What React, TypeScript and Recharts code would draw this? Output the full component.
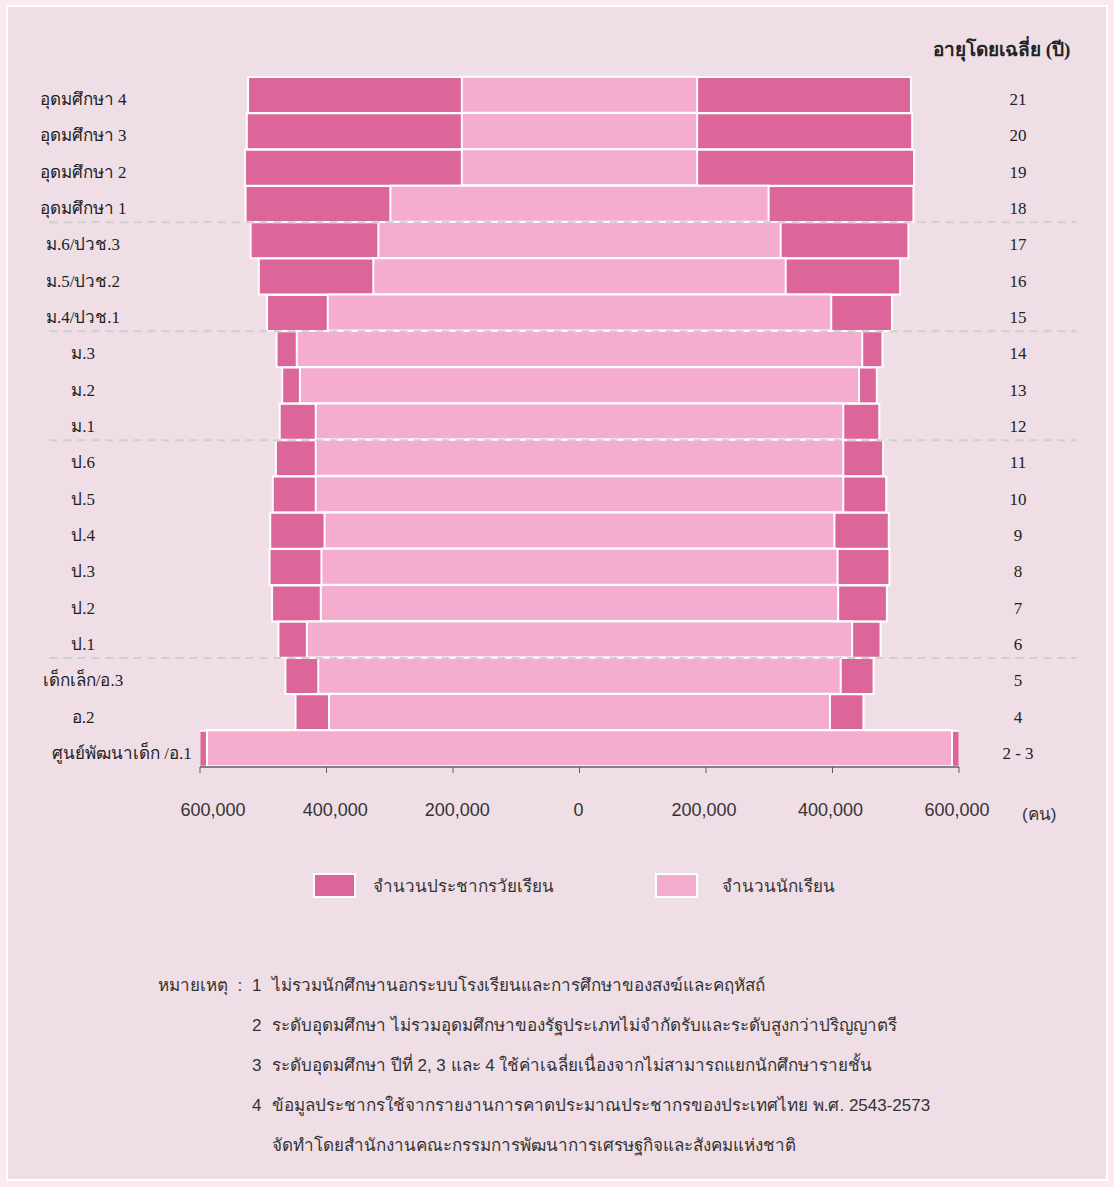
import React from 'react';
import { BarChart, Bar, XAxis, YAxis, ReferenceLine } from 'recharts';

// ระดับการศึกษา (บนลงล่าง) และอายุเฉลี่ย
const levels = [
  'อุดมศึกษา 4', 'อุดมศึกษา 3', 'อุดมศึกษา 2', 'อุดมศึกษา 1',
  'ม.6/ปวช.3', 'ม.5/ปวช.2', 'ม.4/ปวช.1',
  'ม.3', 'ม.2', 'ม.1',
  'ป.6', 'ป.5', 'ป.4', 'ป.3', 'ป.2', 'ป.1',
  'เด็กเล็ก/อ.3', 'อ.2', 'ศูนย์พัฒนาเด็ก /อ.1',
];
const ages = ['21', '20', '19', '18', '17', '16', '15', '14', '13', '12', '11', '10', '9', '8', '7', '6', '5', '4', '2 - 3'];

// ค่าที่อ่านจากแกน (แต่ละด้าน)
const population = [524000, 526000, 529000, 528000, 520000, 507000, 494000, 479000, 470000, 474000, 480000, 485000, 489000, 490000, 486000, 476000, 465000, 449000, 601000];
const students = [186000, 186000, 186000, 299000, 318000, 326000, 398000, 447000, 442000, 417000, 417000, 417000, 403000, 408000, 409000, 431000, 413000, 396000, 589000];

const xTicks = [-600000, -400000, -200000, 0, 200000, 400000, 600000];
const groupStarts = ['ม.6/ปวช.3', 'ม.3', 'ป.6', 'เด็กเล็ก/อ.3'];

const legendItems = [
  { label: 'จำนวนประชากรวัยเรียน', color: '#dc6699' },
  { label: 'จำนวนนักเรียน', color: '#f4adce' },
];

const noteNumbers = ['1', '2', '3', '4', ''];
const noteTexts = [
  'ไม่รวมนักศึกษานอกระบบโรงเรียนและการศึกษาของสงฆ์และคฤหัสถ์',
  'ระดับอุดมศึกษา ไม่รวมอุดมศึกษาของรัฐประเภทไม่จำกัดรับและระดับสูงกว่าปริญญาตรี',
  'ระดับอุดมศึกษา ปีที่ 2, 3 และ 4 ใช้ค่าเฉลี่ยเนื่องจากไม่สามารถแยกนักศึกษารายชั้น',
  'ข้อมูลประชากรใช้จากรายงานการคาดประมาณประชากรของประเทศไทย พ.ศ. 2543-2573',
  'จัดทำโดยสำนักงานคณะกรรมการพัฒนาการเศรษฐกิจและสังคมแห่งชาติ',
];

const DARK = '#dc6699';
const LIGHT = '#f4adce';
const SERIF = '"Liberation Serif", serif';
const SANS = '"Liberation Sans", sans-serif';
const SEP_FROM = -838000;
const SEP_TO = 786000;

const rows = levels.map((level, i) => ({
  level,
  age: ages[i],
  pop: [-population[i], population[i]],
  stu: [-students[i], students[i]],
}));

const LevelTick = (props: any) => {
  const { y, payload } = props;
  const label: string = payload.value;
  const long = label.length > 14;
  return (
    <text x={long ? 52 : 83} y={y} dy={10} textAnchor={long ? 'start' : 'middle'}
      fontFamily={SERIF} fontSize={17} fill="#222">
      {label}
    </text>
  );
};

const AgeTick = (props: any) => {
  const { x, y, payload } = props;
  return (
    <text x={x + 59} y={y} dy={10} textAnchor="middle" fontFamily={SERIF} fontSize={17} fill="#222">
      {payload.value}
    </text>
  );
};

const ValueTick = (props: any) => {
  const { x, y, payload } = props;
  const v: number = payload.value;
  const shift = v < 0 ? (-v / 600000) * 13 : v > 0 ? -2 : -1;
  return (
    <text x={x + shift} y={y} dy={13} textAnchor="middle" fontFamily={SANS} fontSize={18} fill="#333">
      {Math.abs(v).toLocaleString('en-US')}
    </text>
  );
};

export default function App() {
  return (
    <div style={{ position: 'absolute', left: 0, top: 0, width: 1114, height: 1187, background: '#fce8f0' }}>
      <div style={{
        position: 'absolute', left: 6, top: 5, width: 1102, height: 1176, boxSizing: 'border-box',
        border: '2px solid #ffffff', background: '#efdee6',
      }} />

      <div style={{ position: 'absolute', left: 933, top: 34, fontFamily: SERIF, fontSize: 19, fontWeight: 'bold', color: '#222' }}>
        อายุโดยเฉลี่ย (ปี)
      </div>

      <div style={{ position: 'absolute', left: 0, top: 0 }}>
        <BarChart width={1114} height={850} data={rows} layout="vertical"
          margin={{ top: 77, right: 0, bottom: 0, left: 0 }}
          barGap="-100%" barCategoryGap={0}>
          <XAxis type="number" domain={[-600000, 600000]} ticks={xTicks} allowDataOverflow
            height={83} tickSize={6} tickMargin={30}
            axisLine={{ stroke: '#5b5b5b', strokeWidth: 1.5 }} tickLine={{ stroke: '#5b5b5b' }}
            tick={<ValueTick />} />
          <YAxis yAxisId="level" type="category" dataKey="level" width={200} interval={0}
            axisLine={false} tickLine={false} tick={<LevelTick />} />
          <YAxis yAxisId="age" orientation="right" type="category" dataKey="age" width={155} interval={0}
            axisLine={false} tickLine={false} tickSize={0} tickMargin={0} tick={<AgeTick />} />
          <Bar yAxisId="level" dataKey="pop" fill={DARK} stroke="#ffffff" strokeWidth={2} isAnimationActive={false} />
          <Bar yAxisId="level" dataKey="stu" fill={LIGHT} stroke="#ffffff" strokeWidth={2} isAnimationActive={false} />
          {groupStarts.map((level) => (
            <ReferenceLine key={level} yAxisId="level" position="start" ifOverflow="visible"
              segment={[{ x: SEP_FROM, y: level }, { x: SEP_TO, y: level }]}
              stroke="#cfcfcf" strokeWidth={2} strokeDasharray="8 6" />
          ))}
        </BarChart>
      </div>

      <div style={{ position: 'absolute', left: 1022, top: 800, fontFamily: SANS, fontSize: 17, color: '#333' }}>(คน)</div>

      {legendItems.map((item, i) => (
        <div key={item.label} style={{ position: 'absolute', left: i === 0 ? 313 : 655, top: 872, display: 'flex', alignItems: 'center' }}>
          <div style={{ width: 43, height: 25, boxSizing: 'border-box', border: '2px solid #fff', background: item.color }} />
          <span style={{ marginLeft: i === 0 ? 17 : 24, fontFamily: SERIF, fontSize: 17, color: '#333' }}>{item.label}</span>
        </div>
      ))}

      <div style={{ position: 'absolute', left: 158, top: 971, fontFamily: SANS, fontSize: 17, color: '#333' }}>หมายเหตุ&nbsp;&nbsp;:</div>
      {noteTexts.map((t, i) => (
        <div key={i} style={{ position: 'absolute', left: 252, top: 971 + i * 40, fontFamily: SANS, fontSize: 17, color: '#333', whiteSpace: 'nowrap' }}>
          <span style={{ display: 'inline-block', width: 20 }}>{noteNumbers[i]}</span>{t}
        </div>
      ))}
    </div>
  );
}
